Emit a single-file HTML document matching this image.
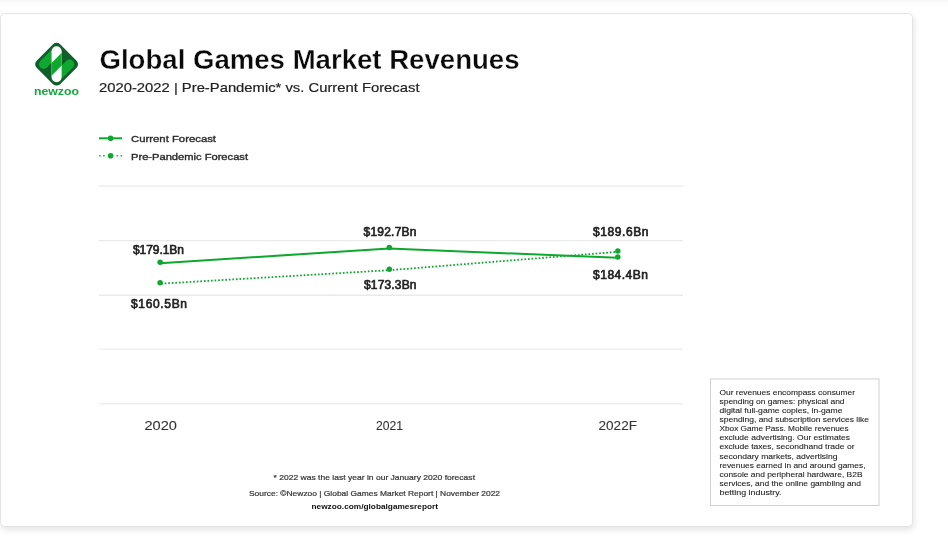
<!DOCTYPE html>
<html><head><meta charset="utf-8"><title>Global Games Market Revenues</title>
<style>
html,body{margin:0;padding:0;background:#fff;width:948px;height:536px;overflow:hidden}
.top{position:absolute;left:0;top:0;width:948px;height:7px;background:linear-gradient(#f6f6f6,#fbfbfb 40%,#fff)}
.card{position:absolute;left:0;top:13px;width:911px;height:512px;border:1px solid #e4e4e4;border-radius:5px;background:#fff;box-shadow:1px 3px 6px rgba(0,0,0,.11)}
svg{position:absolute;left:0;top:0;will-change:transform}
text{font-family:"Liberation Sans",Arial,sans-serif}
</style></head><body>
<div class="top"></div>
<div class="card"></div>
<svg width="948" height="536" viewBox="0 0 948 536">
  <g transform="translate(56.6 64.2)">
    <rect x="-16.6" y="-16.6" width="33.2" height="33.2" rx="5" transform="rotate(45)" fill="#0f5f2b"/>
    <circle cx="-13" cy="0" r="4.6" fill="#0ea82f"/>
    <polygon points="-16.25,-3.25 -5.1,-14.4 -5.1,-1.4 -9.75,3.25" fill="#0ea82f"/>
    <circle cx="13" cy="0" r="4.6" fill="#0ea82f"/>
    <polygon points="16.25,3.25 5.1,14.4 5.1,1.4 9.75,-3.25" fill="#0ea82f"/>
    <rect x="-5.1" y="-18" width="10.2" height="36" rx="5.1" fill="#fff"/>
    <polygon points="-5.1,-1.3 5.1,-11.5 5.1,1.3 -5.1,11.5" fill="#0ea82f"/>
  </g>
  <line x1="99" y1="138.3" x2="122" y2="138.3" stroke="#0ea82f" stroke-width="2"/>
  <circle cx="110.6" cy="138.3" r="2.8" fill="#0ea82f"/>
  <g fill="#2cb54a"><rect x="99.1" y="155" width="1.6" height="1.6"/><rect x="103.1" y="155" width="1.6" height="1.6"/><rect x="116.6" y="155" width="1.6" height="1.6"/><rect x="120.5" y="155" width="1.6" height="1.6"/></g>
  <circle cx="110.6" cy="155.8" r="2.8" fill="#0ea82f"/>
  <g stroke="#eaeaea" stroke-width="1.4">
    <line x1="99" y1="186.1" x2="683" y2="186.1"/>
    <line x1="99" y1="240.6" x2="683" y2="240.6"/>
    <line x1="99" y1="295.2" x2="683" y2="295.2"/>
    <line x1="99" y1="349.2" x2="683" y2="349.2" stroke="#efefef"/>
    <line x1="99" y1="403.8" x2="683" y2="403.8" stroke="#eeeeee"/>
  </g>
  <polyline points="160.1,283.7 389.3,270.2 617.8,251.8" fill="none" stroke="#0ea82f" stroke-width="1.8" stroke-dasharray="1.7 1.87" stroke-dashoffset="-1"/>
  <polyline points="160.1,263.2 389.3,248.5 617.8,257.8" fill="none" stroke="#0ea82f" stroke-width="2"/>
  <g fill="#0ea82f">
    <circle cx="160.1" cy="262.3" r="2.75"/>
    <circle cx="389.3" cy="247.6" r="2.75"/>
    <circle cx="617.8" cy="256.9" r="2.75"/>
    <circle cx="160.1" cy="282.8" r="2.75"/>
    <circle cx="389.3" cy="269.3" r="2.75"/>
    <circle cx="617.8" cy="250.9" r="2.75"/>
  </g>
  <rect x="710.5" y="379" width="168.5" height="126.5" fill="#fff" stroke="#d0d0d0" stroke-width="1"/>
  <text x="34.00" y="94.80" font-size="11.5" font-weight="bold" fill="#12aa3a" textLength="45.00" lengthAdjust="spacingAndGlyphs">newzoo</text>
  <text x="99.50" y="69.20" font-size="26.8" font-weight="bold" fill="#0a0a0a" stroke="#fff" stroke-width="0.3" textLength="420.00" lengthAdjust="spacingAndGlyphs">Global Games Market Revenues</text>
  <text x="99.00" y="92.00" font-size="13.4" fill="#222" stroke="#222" stroke-width="0.2" textLength="320.50" lengthAdjust="spacingAndGlyphs">2020-2022 | Pre-Pandemic* vs. Current Forecast</text>
  <text x="131.00" y="142.30" font-size="9.6" fill="#2a2a2a" stroke="#2a2a2a" stroke-width="0.35" textLength="85.00" lengthAdjust="spacingAndGlyphs">Current Forecast</text>
  <text x="131.00" y="160.20" font-size="9.6" fill="#2a2a2a" stroke="#2a2a2a" stroke-width="0.35" textLength="117.00" lengthAdjust="spacingAndGlyphs">Pre-Pandemic Forecast</text>
  <text x="133.00" y="254.10" font-size="12" fill="#222" stroke="#222" stroke-width="0.65" textLength="51.00" lengthAdjust="spacing">$179.1Bn</text>
  <text x="131.00" y="308.10" font-size="12" fill="#222" stroke="#222" stroke-width="0.65" textLength="56.00" lengthAdjust="spacing">$160.5Bn</text>
  <text x="363.50" y="236.00" font-size="12" fill="#222" stroke="#222" stroke-width="0.65" textLength="53.00" lengthAdjust="spacing">$192.7Bn</text>
  <text x="364.00" y="289.40" font-size="12" fill="#222" stroke="#222" stroke-width="0.65" textLength="52.50" lengthAdjust="spacing">$173.3Bn</text>
  <text x="593.00" y="236.00" font-size="12" fill="#222" stroke="#222" stroke-width="0.65" textLength="55.50" lengthAdjust="spacing">$189.6Bn</text>
  <text x="593.00" y="279.00" font-size="12" fill="#222" stroke="#222" stroke-width="0.65" textLength="55.00" lengthAdjust="spacing">$184.4Bn</text>
  <text x="144.50" y="429.90" font-size="13" fill="#333" stroke="#333" stroke-width="0.1" textLength="32.50" lengthAdjust="spacingAndGlyphs">2020</text>
  <text x="376.00" y="429.90" font-size="13" fill="#333" stroke="#333" stroke-width="0.1" textLength="27.00" lengthAdjust="spacingAndGlyphs">2021</text>
  <text x="598.50" y="429.90" font-size="13" fill="#333" stroke="#333" stroke-width="0.1" textLength="38.50" lengthAdjust="spacingAndGlyphs">2022F</text>
  <text x="273.50" y="479.80" font-size="7.8" fill="#333" stroke="#333" stroke-width="0.2" textLength="201.50" lengthAdjust="spacingAndGlyphs">* 2022 was the last year in our January 2020 forecast</text>
  <text x="249.00" y="496.00" font-size="7.8" fill="#333" stroke="#333" stroke-width="0.2" textLength="251.00" lengthAdjust="spacingAndGlyphs">Source: ©Newzoo | Global Games Market Report | November 2022</text>
  <text x="311.50" y="508.60" font-size="7.8" font-weight="bold" fill="#111" textLength="126.50" lengthAdjust="spacingAndGlyphs">newzoo.com/globalgamesreport</text>
  <text x="719.50" y="394.80" font-size="7.8" fill="#1e1e1e" stroke="#1e1e1e" stroke-width="0.1" textLength="135.50" lengthAdjust="spacingAndGlyphs">Our revenues encompass consumer</text>
  <text x="719.50" y="403.90" font-size="7.8" fill="#1e1e1e" stroke="#1e1e1e" stroke-width="0.1" textLength="125.00" lengthAdjust="spacingAndGlyphs">spending on games: physical and</text>
  <text x="719.50" y="413.00" font-size="7.8" fill="#1e1e1e" stroke="#1e1e1e" stroke-width="0.1" textLength="123.00" lengthAdjust="spacingAndGlyphs">digital full-game copies, in-game</text>
  <text x="719.50" y="422.10" font-size="7.8" fill="#1e1e1e" stroke="#1e1e1e" stroke-width="0.1" textLength="149.50" lengthAdjust="spacingAndGlyphs">spending, and subscription services like</text>
  <text x="719.50" y="431.20" font-size="7.8" fill="#1e1e1e" stroke="#1e1e1e" stroke-width="0.1" textLength="129.00" lengthAdjust="spacingAndGlyphs">Xbox Game Pass. Mobile revenues</text>
  <text x="719.50" y="440.30" font-size="7.8" fill="#1e1e1e" stroke="#1e1e1e" stroke-width="0.1" textLength="130.50" lengthAdjust="spacingAndGlyphs">exclude advertising. Our estimates</text>
  <text x="719.50" y="449.40" font-size="7.8" fill="#1e1e1e" stroke="#1e1e1e" stroke-width="0.1" textLength="135.00" lengthAdjust="spacingAndGlyphs">exclude taxes, secondhand trade or</text>
  <text x="719.50" y="458.50" font-size="7.8" fill="#1e1e1e" stroke="#1e1e1e" stroke-width="0.1" textLength="118.00" lengthAdjust="spacingAndGlyphs">secondary markets, advertising</text>
  <text x="719.50" y="467.60" font-size="7.8" fill="#1e1e1e" stroke="#1e1e1e" stroke-width="0.1" textLength="146.00" lengthAdjust="spacingAndGlyphs">revenues earned in and around games,</text>
  <text x="719.50" y="476.70" font-size="7.8" fill="#1e1e1e" stroke="#1e1e1e" stroke-width="0.1" textLength="143.00" lengthAdjust="spacingAndGlyphs">console and peripheral hardware, B2B</text>
  <text x="719.50" y="485.80" font-size="7.8" fill="#1e1e1e" stroke="#1e1e1e" stroke-width="0.1" textLength="141.50" lengthAdjust="spacingAndGlyphs">services, and the online gambling and</text>
  <text x="719.50" y="494.90" font-size="7.8" fill="#1e1e1e" stroke="#1e1e1e" stroke-width="0.1" textLength="62.00" lengthAdjust="spacingAndGlyphs">betting industry.</text>
</svg>
</body></html>
